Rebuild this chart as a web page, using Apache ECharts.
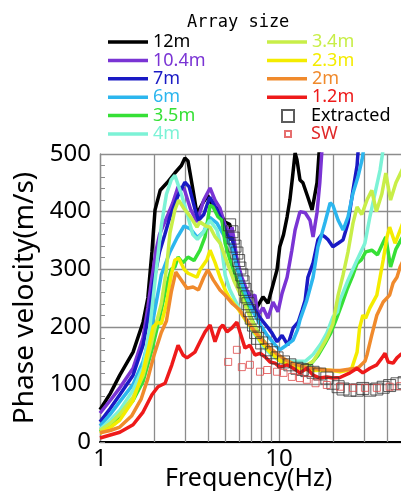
<!DOCTYPE html>
<html>
<head>
<meta charset="utf-8">
<script src="https://cdn.jsdelivr.net/npm/echarts@6/dist/echarts.min.js"></script>
<style>
  html, body { margin: 0; padding: 0; background: #fff; }
  #chart { width: 401px; height: 491px; }
</style>
</head>
<body>
<div id="chart"></div>
<script>
// array sizes and their colours
const seriesNames = ['12m', '10.4m', '7m', '6m', '3.5m', '4m', '3.4m', '2.3m', '2m', '1.2m']
const seriesColors = ['#000000', '#7a34d4', '#1a1ac4', '#2cb6ee', '#36e036', '#7cf2d6', '#c8ee48', '#f4ec00', '#f08a2c', '#ee1a1a']

// extra vertical grid lines (log axis)
const minorFreqs = [2, 3, 4, 5, 6, 7, 8, 9, 20, 30, 40, 50, 60, 70, 80, 90]

// [frequency Hz, phase velocity m/s]
const d12m = [[1.0,56],[1.14,84],[1.29,116],[1.53,156],[1.74,208],[1.85,250],[1.95,330],[2.03,403],[2.17,437],[2.37,450],[2.62,467],[2.85,480],[2.98,493],[3.1,488],[3.31,437],[3.48,396],[3.75,415],[4.0,428],[4.28,408],[4.56,405],[4.99,382],[5.3,378],[5.53,356],[5.82,316],[6.05,286],[6.46,259],[6.71,240],[7.1,232],[7.54,234],[8.14,252],[8.68,241],[9.2,270],[9.75,299],[10.1,339],[10.6,360],[11.1,391],[11.5,420],[11.9,460],[12.3,502],[12.6,490],[13.1,455],[13.6,450],[14.5,425],[15.3,403],[16.3,450],[16.9,520],[17.5,600]]
const d10_4m = [[1.0,50],[1.14,72],[1.29,94],[1.53,128],[1.74,181],[1.85,233],[1.95,285],[2.05,330],[2.15,360],[2.25,375],[2.4,395],[2.55,415],[2.73,443],[2.95,440],[3.2,405],[3.48,382],[3.8,420],[4.12,441],[4.39,420],[4.68,406],[4.99,377],[5.19,368],[5.35,351],[5.46,373],[5.65,345],[5.82,316],[6.2,286],[6.6,264],[7.0,252],[7.34,255],[7.63,220],[8.14,233],[8.68,215],[9.26,243],[9.87,226],[10.4,258],[11.1,286],[11.8,333],[12.3,368],[13.1,400],[14.0,398],[14.9,385],[15.5,356],[16.3,398],[16.9,450],[17.4,510],[18.2,600]]
const d7m = [[1.0,35],[1.14,58],[1.29,82],[1.53,116],[1.74,168],[1.9,233],[2.0,280],[2.15,330],[2.3,360],[2.46,391],[2.73,428],[2.98,451],[3.15,443],[3.4,403],[3.55,385],[3.8,395],[4.1,425],[4.5,403],[4.8,385],[5.0,368],[5.3,351],[5.46,356],[5.65,330],[5.82,305],[6.2,278],[6.6,255],[7.0,240],[7.5,225],[8.0,212],[8.6,200],[9.14,189],[9.75,174],[10.4,185],[11.2,168],[12.0,198],[12.8,208],[13.5,230],[14.0,246],[14.5,286],[15.5,311],[16.5,351],[17.3,360],[18.1,356],[18.8,351],[20.0,339],[21.4,345],[22.8,351],[24.3,380],[25.9,437],[27.3,480],[28.5,560]]
const d6m = [[1.0,28],[1.14,48],[1.29,70],[1.53,100],[1.74,140],[1.9,185],[2.0,220],[2.2,290],[2.46,330],[2.7,355],[2.95,375],[3.2,370],[3.5,355],[3.8,365],[4.1,390],[4.5,380],[5.0,355],[5.4,340],[5.8,305],[6.2,275],[6.6,250],[7.0,232],[7.5,215],[8.0,200],[8.6,185],[9.3,172],[10.1,160],[11.0,168],[12.0,177],[12.7,195],[13.1,212],[14.3,246],[15.5,286],[16.5,339],[17.3,360],[18.1,382],[19.3,415],[20.0,411],[21.4,385],[22.8,368],[24.3,391],[25.9,432],[27.6,460],[29.1,490],[30.5,530]]
const d3_5m = [[1.0,18],[1.14,30],[1.29,45],[1.53,72],[1.74,105],[1.95,160],[2.15,215],[2.35,270],[2.5,300],[2.62,304],[2.73,321],[2.9,311],[3.1,321],[3.35,315],[3.62,333],[3.86,356],[4.12,411],[4.28,408],[4.56,391],[4.8,385],[5.0,345],[5.3,318],[5.6,295],[6.0,268],[6.5,240],[7.0,215],[7.5,195],[8.0,180],[9.0,160],[10.0,148],[11.0,140],[12.0,135],[13.5,132],[15.0,135],[16.5,150],[18.0,170],[19.5,190],[21.0,215],[22.5,240],[24.0,265],[25.9,290],[27.3,310],[28.8,316],[30.5,330],[33.0,333],[35.5,325],[38.0,345],[39.5,356],[42.0,304],[45.0,335],[48.0,351],[52.0,370]]
const d4m = [[1.0,22],[1.14,38],[1.29,55],[1.53,90],[1.74,130],[1.9,200],[2.03,280],[2.2,375],[2.35,430],[2.5,455],[2.62,463],[2.85,430],[3.1,391],[3.3,360],[3.5,352],[3.8,365],[4.1,385],[4.5,368],[4.8,333],[5.0,290],[5.3,265],[5.6,250],[6.0,232],[6.5,212],[7.0,195],[7.6,180],[8.2,165],[9.0,152],[10.0,142],[11.0,140],[12.5,140],[14.0,140],[15.5,152],[17.1,170],[18.5,189],[20.0,217],[21.2,226],[21.9,246],[24.3,281],[27.3,316],[30.2,345],[32.2,391],[34.4,432],[36.7,472],[39.1,530]]
const d3_4m = [[1.0,20],[1.14,32],[1.29,48],[1.53,78],[1.74,115],[1.9,160],[2.0,190],[2.2,240],[2.35,300],[2.46,363],[2.62,403],[2.75,420],[2.95,405],[3.2,391],[3.48,373],[3.62,382],[3.9,375],[4.12,373],[4.4,356],[4.7,345],[5.0,321],[5.3,300],[5.6,280],[6.0,260],[6.5,235],[7.0,212],[7.5,195],[8.0,180],[9.0,158],[10.0,145],[11.0,137],[12.5,132],[14.0,132],[15.5,140],[17.0,160],[18.5,180],[20.0,205],[21.4,255],[22.8,290],[24.3,330],[25.9,380],[27.3,408],[29.0,395],[31.0,420],[33.0,437],[35.0,400],[37.5,430],[39.5,467],[42.0,420],[45.0,450],[50.0,480]]
const d2_3m = [[1.0,15],[1.14,25],[1.29,38],[1.53,72],[1.74,122],[1.83,151],[1.98,200],[2.11,208],[2.2,205],[2.35,240],[2.5,290],[2.62,316],[2.75,319],[2.95,300],[3.1,293],[3.48,286],[3.62,299],[3.95,316],[4.12,333],[4.4,311],[4.68,286],[5.0,264],[5.3,250],[5.6,240],[6.0,228],[6.5,212],[7.0,198],[7.5,185],[8.0,172],[9.0,155],[10.0,142],[11.0,135],[12.0,130],[14.0,126],[16.0,124],[18.0,125],[20.0,124],[22.0,122],[23.8,124],[25.5,128],[27.3,156],[28.2,198],[29.4,220],[30.5,215],[32.2,233],[35.2,255],[36.7,286],[38.2,316],[40.1,356],[41.5,373],[44.5,345],[47.5,368],[52.0,400]]
const d2m = [[1.0,16],[1.14,20],[1.29,26],[1.5,45],[1.7,75],[1.85,110],[2.0,150],[2.2,190],[2.35,210],[2.5,260],[2.65,295],[2.85,281],[3.06,267],[3.31,269],[3.55,264],[3.8,286],[4.0,299],[4.3,281],[4.68,264],[5.0,255],[5.5,240],[6.0,230],[6.5,215],[7.0,200],[7.5,188],[8.0,178],[9.0,162],[10.0,150],[11.0,142],[12.0,136],[14.0,130],[16.0,127],[18.0,125],[20.0,124],[22.0,124],[24.0,126],[26.0,127],[28.0,130],[30.2,140],[31.0,151],[33.0,186],[35.2,220],[38.2,243],[41.5,255],[43.4,276],[45.6,286],[47.5,304],[52.0,330]]
const d1_2m = [[1.0,7],[1.29,17],[1.53,30],[1.74,52],[1.95,82],[2.11,96],[2.31,102],[2.52,134],[2.73,168],[2.91,151],[3.06,146],[3.39,156],[3.62,174],[3.86,191],[4.12,203],[4.39,174],[4.68,198],[4.86,203],[5.12,191],[5.46,198],[5.82,208],[6.05,191],[6.46,163],[6.88,168],[7.34,151],[7.83,154],[8.35,148],[8.91,139],[9.5,137],[10.1,130],[11.1,134],[12.0,128],[13.1,120],[14.3,128],[15.5,116],[16.9,111],[18.5,113],[20.0,111],[21.9,112],[24.9,120],[27.3,128],[29.4,120],[32.2,128],[35.2,134],[37.6,146],[39.1,154],[40.7,139],[43.4,137],[45.6,146],[47.5,151],[52.0,160]]
const extracted = [[5.3,377],[5.46,365],[5.55,354],[5.68,340],[5.82,328],[5.95,315],[6.05,302],[6.2,290],[6.3,278],[6.45,265],[6.6,252],[6.7,240],[6.85,228],[7.0,215],[7.2,203],[7.4,190],[7.6,180],[8.0,172],[8.5,160],[9.1,155],[9.75,146],[10.6,139],[11.5,134],[12.6,128],[13.5,126],[14.3,124],[15.5,121],[16.9,118],[18.5,111],[20.0,102],[21.4,96],[22.8,92],[24.9,90],[27.3,90],[29.4,93],[32.2,90],[35.2,92],[38.2,95],[41.5,98],[45.6,101],[50.0,103]]
const sw = [[5.2,139],[5.82,160],[6.2,130],[6.88,134],[7.83,122],[8.6,125],[9.75,122],[10.6,120],[11.8,113],[13.1,111],[14.3,108],[16.0,102],[18.5,99],[21.9,96],[25.9,94],[30.2,94],[35.2,94],[41.5,96],[47.5,97],[53.0,98]]

const lineData = [d12m, d10_4m, d7m, d6m, d3_5m, d4m, d3_4m, d2_3m, d2m, d1_2m]

const chart = echarts.init(document.getElementById('chart'))

const font = 'Noto Sans'
const gridGray = '#8c8c8c'
const lineIcon = 'path://M0,0H40V3.5H0Z'

const legendBase = {
  orient: 'vertical',
  itemWidth: 40,
  itemHeight: 14,
  itemGap: 0.4,
  selectedMode: false,
  padding: 0,
  textStyle: { fontFamily: font, fontSize: 18, lineHeight: 18 }
}

const series = lineData.map((d, i) => ({
  name: seriesNames[i],
  type: 'line',
  data: d,
  showSymbol: false,
  symbol: 'none',
  z: 3,
  lineStyle: { width: 3.5, color: seriesColors[i] },
  itemStyle: { color: seriesColors[i] }
}))

series.push({
  name: 'Extracted',
  type: 'scatter',
  data: extracted,
  symbol: 'rect',
  symbolSize: 12,
  z: 4,
  itemStyle: { color: 'rgba(0,0,0,0)', borderColor: '#333', borderWidth: 1 }
})
series.push({
  name: 'SW',
  type: 'scatter',
  data: sw,
  symbol: 'rect',
  symbolSize: 7,
  z: 4,
  itemStyle: { color: 'rgba(0,0,0,0)', borderColor: '#e04a4a', borderWidth: 1 }
})
// 副格子线
series.push({
  type: 'line',
  data: [],
  markLine: {
    silent: true,
    z: 1,
    symbol: ['none', 'none'],
    label: { show: false },
    lineStyle: { color: gridGray, width: 1.3, type: 'solid' },
    data: minorFreqs.map(f => ({ xAxis: f }))
  }
})

const option = {
  animation: false,
  title: {
    text: 'Array size',
    left: 187,
    top: 14,
    padding: 0,
    textStyle: { fontFamily: 'DejaVu Sans Mono', fontSize: 17, fontWeight: 'normal', color: '#000' }
  },
  legend: [
    Object.assign({}, legendBase, {
      left: 108, top: 33,
      data: seriesNames.slice(0, 6).map((n, i) => ({ name: n, icon: lineIcon, textStyle: { color: seriesColors[i] } }))
    }),
    Object.assign({}, legendBase, {
      left: 267, top: 33,
      data: seriesNames.slice(6).map((n, i) => ({ name: n, icon: lineIcon, textStyle: { color: seriesColors[i + 6] } }))
    }),
    Object.assign({}, legendBase, {
      left: 281, top: 107, itemWidth: 12, itemHeight: 12,
      textStyle: { fontFamily: font, fontSize: 18, lineHeight: 18, padding: [0, 0, 0, 12] },
      data: [{ name: 'Extracted', textStyle: { color: '#000' } }]
    }),
    Object.assign({}, legendBase, {
      left: 284, top: 125, itemWidth: 6, itemHeight: 6,
      textStyle: { fontFamily: font, fontSize: 18, lineHeight: 18, padding: [0, 0, 0, 15] },
      data: [{ name: 'SW', textStyle: { color: '#e02828' } }]
    })
  ],
  grid: { left: 100, top: 154, width: 358, height: 288, outerBoundsMode: 'none' },
  xAxis: {
    type: 'log',
    logBase: 10,
    min: 1,
    max: 100,
    axisLine: { lineStyle: { color: '#000', width: 2 } },
    axisTick: { show: false },
    axisLabel: { fontFamily: font, fontSize: 24, color: '#000', margin: 5 },
    splitLine: { show: true, lineStyle: { color: gridGray, width: 1.3 } }
  },
  yAxis: {
    type: 'value',
    min: 0,
    max: 500,
    interval: 100,
    name: 'Phase velocity(m/s)',
    nameLocation: 'middle',
    nameGap: 56,
    nameTextStyle: { fontFamily: font, fontSize: 28, color: '#000' },
    axisLine: { show: true, lineStyle: { color: gridGray, width: 1.3 } },
    axisTick: { show: true, inside: true, length: 5, lineStyle: { color: gridGray } },
    minorTick: { show: true, splitNumber: 5, length: 5, lineStyle: { color: gridGray } },
    axisLabel: { fontFamily: font, fontSize: 24, color: '#000', margin: 9, padding: [0, 0, 13, 0] },
    splitLine: { lineStyle: { color: gridGray, width: 1.3 } }
  },
  graphic: [{
    type: 'text',
    left: 165,
    top: 466,
    style: { text: 'Frequency(Hz)', font: '25px "Noto Sans"', fill: '#000' }
  }],
  series: series
}

chart.setOption(option)
</script>
</body>
</html>
